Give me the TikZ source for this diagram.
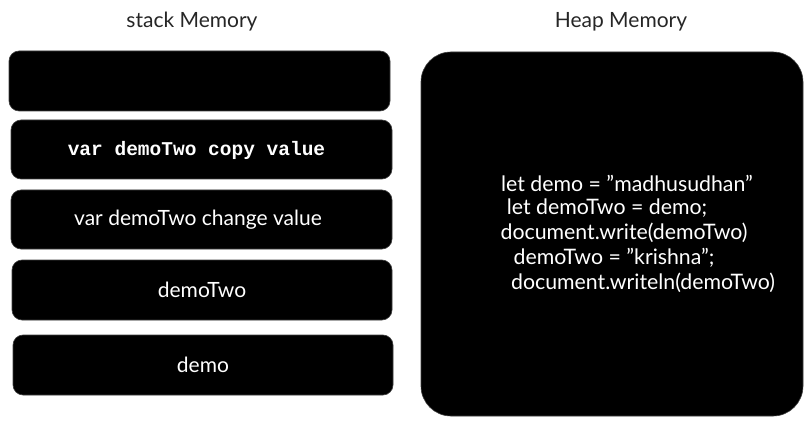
\documentclass[tikz,border=0pt]{standalone}
\usepackage{fontspec}
\setmainfont{Lato}
\newfontfamily\codefont{Liberation Mono}
\begin{document}
\begin{tikzpicture}[x=1pt,y=-1pt,
  box/.style={draw=black!75,line width=0.6pt,fill=black,rounded corners=10pt,text=white,font=\fontsize{21}{24}\selectfont},
  heapbox/.style={draw=black!75,line width=0.6pt,fill=black,rounded corners=30pt},
  title/.style={text=black!85,font=\fontsize{21}{24}\selectfont},
  code/.style={text=white,font=\fontsize{21.3}{24}\selectfont,inner sep=0pt}]
\useasboundingbox[fill=white] (0,0) rectangle (812,425);
\node[title] (st) at (192,22) {stack Memory};
\node[title] (ht) at (621,22) {Heap Memory};
\node[box,minimum width=381pt,minimum height=60pt] (b0) at (199.5,81) {};
\node[box,minimum width=381pt,minimum height=59pt] (b1) at (201.5,149.5) {};
\node[text=white,font=\codefont\bfseries\fontsize{19.5}{22}\selectfont] (t1) at (196.5,150) {var demoTwo copy value};
\node[box,minimum width=381pt,minimum height=59pt] (b2) at (201.5,219.5) {};
\node[text=white,font=\fontsize{21}{24}\selectfont] (t2) at (198,219.5) {var demoTwo change value};
\node[box,minimum width=380pt,minimum height=60pt] (b3) at (202,290) {demoTwo};
\node[box,minimum width=380pt,minimum height=60pt] (b4) at (203,365) {demo};
\node[heapbox,minimum width=382pt,minimum height=364pt] (heap) at (612,234) {};
\node[code] (l1) at (627,183) {let demo = "madhusudhan"};
\node[code] (l2) at (607,208) {let demoTwo = demo;};
\node[code] (l3) at (624,233) {document.write(demoTwo)};
\node[code] (l4) at (614,258) {demoTwo = "krishna";};
\node[code] (l5) at (643,283) {document.writeln(demoTwo)};
\end{tikzpicture}
\end{document}
